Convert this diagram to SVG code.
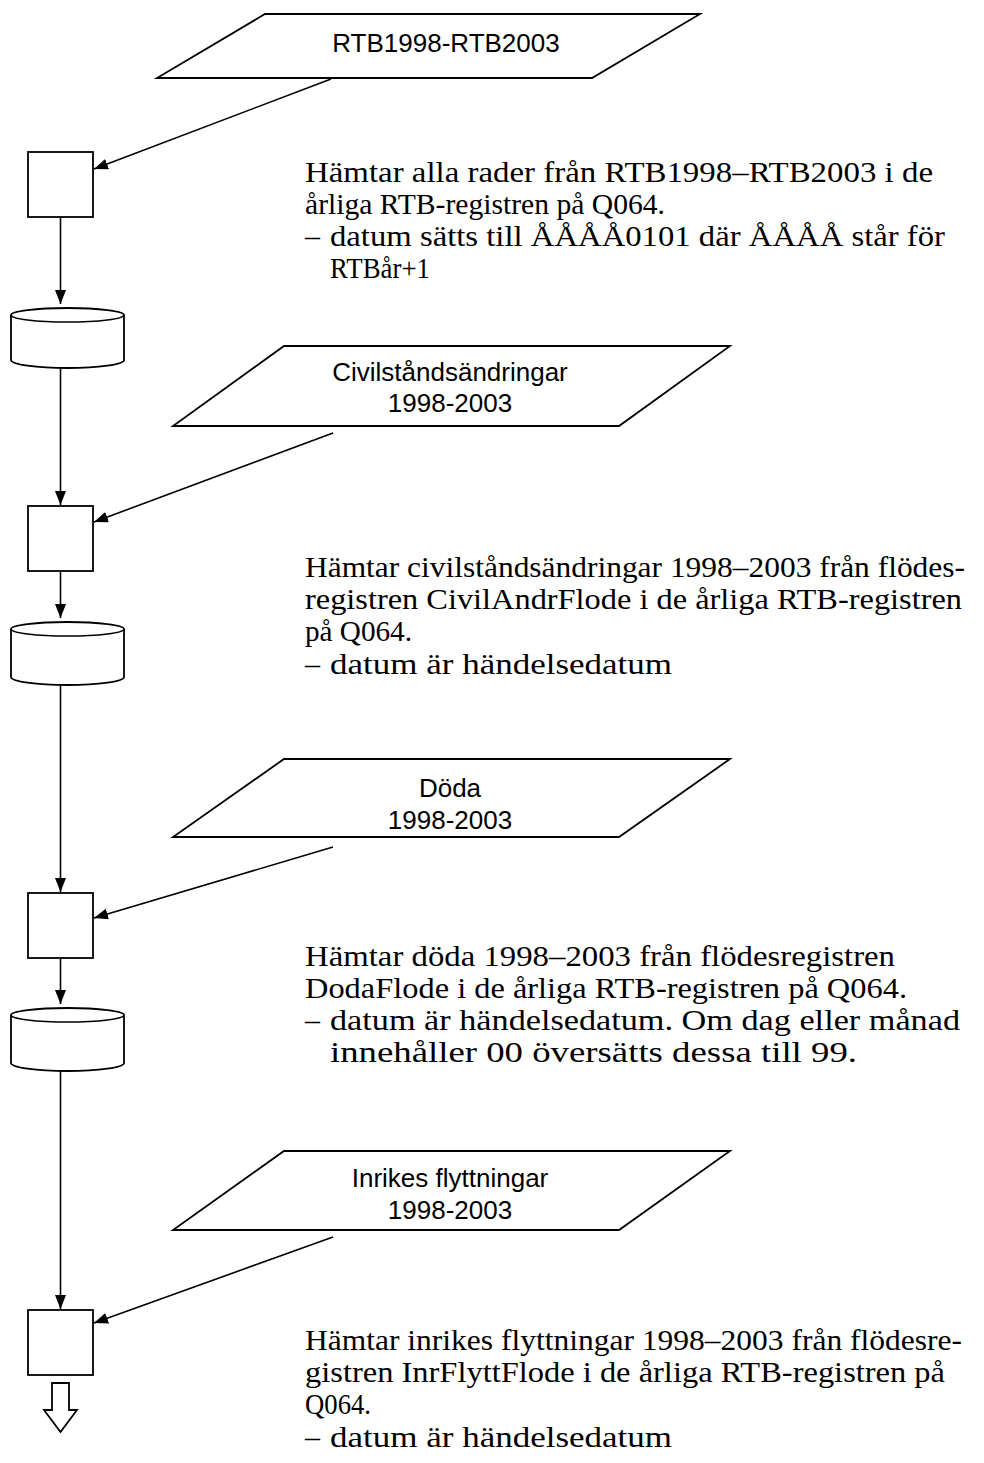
<svg xmlns="http://www.w3.org/2000/svg" width="984" height="1463" viewBox="0 0 984 1463">
<style>
.s{fill:#fff;stroke:#000;stroke-width:1.8}
.c{fill:none;stroke:#000;stroke-width:1.6}
.lbl{font-family:"Liberation Sans",Arial,sans-serif;font-size:26px;fill:#000;text-anchor:middle}
.tx{font-family:"Liberation Serif","Times New Roman",serif;font-size:30px;fill:#000}
</style>
<defs>
<marker id="ah" markerUnits="userSpaceOnUse" markerWidth="15" markerHeight="12" refX="14" refY="5.5" orient="auto">
<path d="M0,0 L14,5.5 L0,11 z" fill="#000"/>
</marker>
</defs>
<rect width="984" height="1463" fill="#fff"/>

<g id="connectors">
<line class="c" x1="331" y1="79" x2="94" y2="169" marker-end="url(#ah)"/>
<line class="c" x1="60.5" y1="217" x2="60.5" y2="304" marker-end="url(#ah)"/>
<line class="c" x1="60.5" y1="368" x2="60.5" y2="505" marker-end="url(#ah)"/>
<line class="c" x1="333" y1="433" x2="94" y2="522" marker-end="url(#ah)"/>
<line class="c" x1="60.5" y1="571" x2="60.5" y2="618" marker-end="url(#ah)"/>
<line class="c" x1="60.5" y1="685" x2="60.5" y2="892" marker-end="url(#ah)"/>
<line class="c" x1="333" y1="847" x2="94" y2="918" marker-end="url(#ah)"/>
<line class="c" x1="60.5" y1="958" x2="60.5" y2="1004" marker-end="url(#ah)"/>
<line class="c" x1="60.5" y1="1071" x2="60.5" y2="1309" marker-end="url(#ah)"/>
<line class="c" x1="333" y1="1237" x2="94" y2="1323" marker-end="url(#ah)"/>
<polygon class="s" points="52,1383 69,1383 69,1410 77,1410 60.5,1432 44,1410 52,1410"/>
</g>

<g id="in1">
<polygon class="s" points="265,14 700,14 592,78 157,78"/>
<text class="lbl" x="446" y="52">RTB1998-RTB2003</text>
</g>
<g id="p1"><rect class="s" x="28" y="152" width="65" height="65"/></g>
<g id="db1">
<path class="s" d="M11,315 L11,360 A56.5,8 0 0 0 124,360 L124,315 A56.5,7 0 0 0 11,315 Z"/>
<path class="c" d="M11,315 A56.5,7 0 0 0 124,315"/>
</g>
<g id="t1">
<text class="tx" x="305" y="182" textLength="628" lengthAdjust="spacingAndGlyphs">Hämtar alla rader från RTB1998–RTB2003 i de</text>
<text class="tx" x="305" y="214" textLength="360" lengthAdjust="spacingAndGlyphs">årliga RTB-registren på Q064.</text>
<text class="tx" x="305" y="246">–</text>
<text class="tx" x="330" y="246" textLength="615" lengthAdjust="spacingAndGlyphs">datum sätts till ÅÅÅÅ0101 där ÅÅÅÅ står för</text>
<text class="tx" x="330" y="278" textLength="100" lengthAdjust="spacingAndGlyphs">RTBår+1</text>
</g>

<g id="in2">
<polygon class="s" points="284,346 730,346 619,426 173,426"/>
<text class="lbl" x="450" y="381">Civilståndsändringar</text>
<text class="lbl" x="450" y="412">1998-2003</text>
</g>
<g id="p2"><rect class="s" x="28" y="506" width="65" height="65"/></g>
<g id="db2">
<path class="s" d="M11,629 L11,677 A56.5,8 0 0 0 124,677 L124,629 A56.5,7 0 0 0 11,629 Z"/>
<path class="c" d="M11,629 A56.5,7 0 0 0 124,629"/>
</g>
<g id="t2">
<text class="tx" x="305" y="577" textLength="660" lengthAdjust="spacingAndGlyphs">Hämtar civilståndsändringar 1998–2003 från flödes-</text>
<text class="tx" x="305" y="609" textLength="657" lengthAdjust="spacingAndGlyphs">registren CivilAndrFlode i de årliga RTB-registren</text>
<text class="tx" x="305" y="641" textLength="107" lengthAdjust="spacingAndGlyphs">på Q064.</text>
<text class="tx" x="305" y="674">–</text>
<text class="tx" x="330" y="674" textLength="342" lengthAdjust="spacingAndGlyphs">datum är händelsedatum</text>
</g>

<g id="in3">
<polygon class="s" points="284,759 730,759 619,837 173,837"/>
<text class="lbl" x="450" y="797">Döda</text>
<text class="lbl" x="450" y="829">1998-2003</text>
</g>
<g id="p3"><rect class="s" x="28" y="893" width="65" height="65"/></g>
<g id="db3">
<path class="s" d="M11,1015 L11,1063 A56.5,8 0 0 0 124,1063 L124,1015 A56.5,7 0 0 0 11,1015 Z"/>
<path class="c" d="M11,1015 A56.5,7 0 0 0 124,1015"/>
</g>
<g id="t3">
<text class="tx" x="305" y="966" textLength="590" lengthAdjust="spacingAndGlyphs">Hämtar döda 1998–2003 från flödesregistren</text>
<text class="tx" x="305" y="998" textLength="602" lengthAdjust="spacingAndGlyphs">DodaFlode i de årliga RTB-registren på Q064.</text>
<text class="tx" x="305" y="1030">–</text>
<text class="tx" x="330" y="1030" textLength="630" lengthAdjust="spacingAndGlyphs">datum är händelsedatum. Om dag eller månad</text>
<text class="tx" x="330" y="1062" textLength="527" lengthAdjust="spacingAndGlyphs">innehåller 00 översätts dessa till 99.</text>
</g>

<g id="in4">
<polygon class="s" points="284,1151 730,1151 619,1230 173,1230"/>
<text class="lbl" x="450" y="1187">Inrikes flyttningar</text>
<text class="lbl" x="450" y="1219">1998-2003</text>
</g>
<g id="p4"><rect class="s" x="28" y="1310" width="65" height="65"/></g>
<g id="t4">
<text class="tx" x="305" y="1350" textLength="657" lengthAdjust="spacingAndGlyphs">Hämtar inrikes flyttningar 1998–2003 från flödesre-</text>
<text class="tx" x="305" y="1382" textLength="640" lengthAdjust="spacingAndGlyphs">gistren InrFlyttFlode i de årliga RTB-registren på</text>
<text class="tx" x="305" y="1414" textLength="66" lengthAdjust="spacingAndGlyphs">Q064.</text>
<text class="tx" x="305" y="1447">–</text>
<text class="tx" x="330" y="1447" textLength="342" lengthAdjust="spacingAndGlyphs">datum är händelsedatum</text>
</g>
</svg>
